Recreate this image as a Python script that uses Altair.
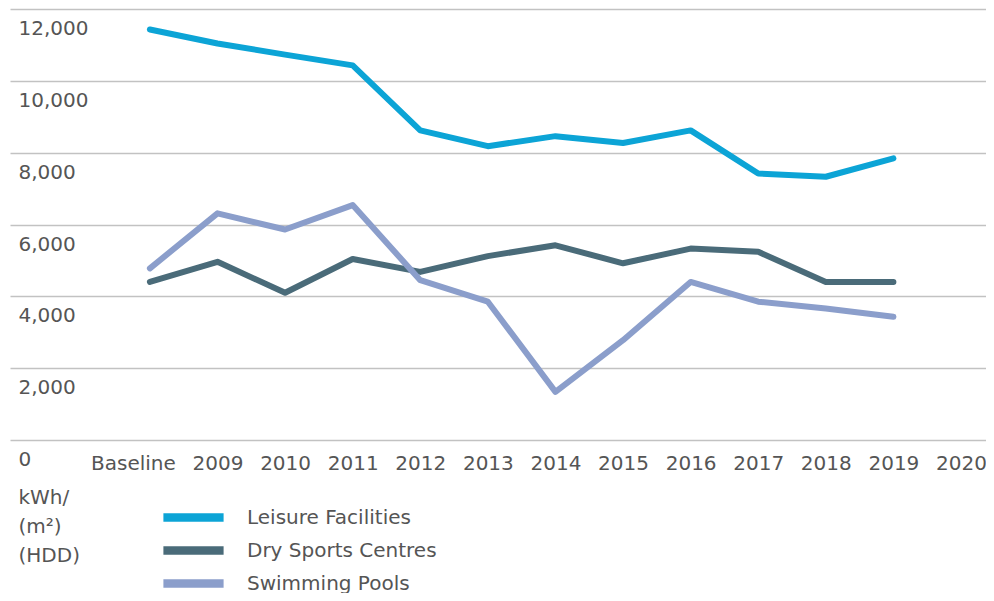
import altair as alt
import pandas as pd

# ---- data ----
categories = ["Baseline", "2009", "2010", "2011", "2012", "2013", "2014",
              "2015", "2016", "2017", "2018", "2019", "2020"]
data_categories = categories[:12]
series_names = ["Leisure Facilities", "Dry Sports Centres", "Swimming Pools"]
leisure = [11430, 11040, 10730, 10430, 8620, 8180, 8460, 8270, 8620, 7420, 7330, 7840]
dry_sports = [4400, 4960, 4100, 5040, 4680, 5120, 5420, 4920, 5330, 5240, 4400, 4400]
swimming = [4780, 6310, 5860, 6540, 4450, 3850, 1340, 2780, 4400, 3850, 3660, 3430]
series_colors = ["#0ca4d6", "#4a6b79", "#8b9ecb"]
y_ticks = [0, 2000, 4000, 6000, 8000, 10000, 12000]
y_title = ["kWh/", "(m²)", "(HDD)"]

rows = []
for name, vals in zip(series_names, [leisure, dry_sports, swimming]):
    for i, (cat, v) in enumerate(zip(data_categories, vals)):
        rows.append({"idx": i, "category": cat, "series": name, "value": v})
df = pd.DataFrame(rows)

x_positions = list(range(len(categories)))
label_expr = "[" + ",".join("'%s'" % c for c in categories) + "][datum.value]"

FONT = "DejaVu Sans"
TXT = "#555555"

chart = alt.Chart(df).mark_line(
    strokeWidth=6, strokeJoin="round", strokeCap="round"
).encode(
    x=alt.X(
        "idx:Q",
        scale=alt.Scale(domain=[-2.07, 12.37], nice=False, zero=False),
        axis=alt.Axis(
            title=None, domain=False, ticks=False, grid=False,
            values=x_positions, labelExpr=label_expr,
            labelFlush=False, labelOverlap=False,
            labelOffset={"condition": {"test": "datum.value == 0", "value": -17}, "value": 0},
            labelAngle=0, labelPadding=13, labelBaseline="top",
            labelFontSize=20, labelFont=FONT, labelColor=TXT,
        ),
    ),
    y=alt.Y(
        "value:Q",
        scale=alt.Scale(domain=[0, 12000], nice=False, zero=True),
        axis=alt.Axis(
            values=y_ticks, format=",d", domain=False, ticks=False, tickSize=0,
            grid=True, gridColor="#c2c2c2", gridWidth=1.7,
            labelAlign="left", labelBaseline="middle", labelPadding=-8,
            labelOffset=19.5, labelFontSize=20, labelFont=FONT, labelColor=TXT,
            labelOverlap=False,
            title=y_title, titleAngle=0, titleAlign="left", titleBaseline="top",
            titleX=8, titleY=478, titleFontSize=20, titleFont=FONT,
            titleFontWeight="normal", titleColor=TXT, titleLineHeight=29,
        ),
    ),
    color=alt.Color(
        "series:N",
        sort=series_names,
        scale=alt.Scale(domain=series_names, range=series_colors),
        legend=alt.Legend(
            orient="none", legendX=172, legendY=497, title=None, padding=0,
            direction="vertical", symbolType="M-4.3,0H4.3", symbolSize=196,
            symbolStrokeWidth=8.5, labelOffset=42, rowPadding=-2, labelLimit=0,
            labelFontSize=20, labelFont=FONT, labelColor=TXT,
        ),
    ),
).properties(
    width=976,
    height=431,
    background="white",
    autosize=alt.AutoSizeParams(type="none"),
    padding={"left": 2, "top": 1, "right": 0, "bottom": 153},
).configure_view(stroke=None)

chart.save("out.html", embed_options={"renderer": "svg", "actions": False})
